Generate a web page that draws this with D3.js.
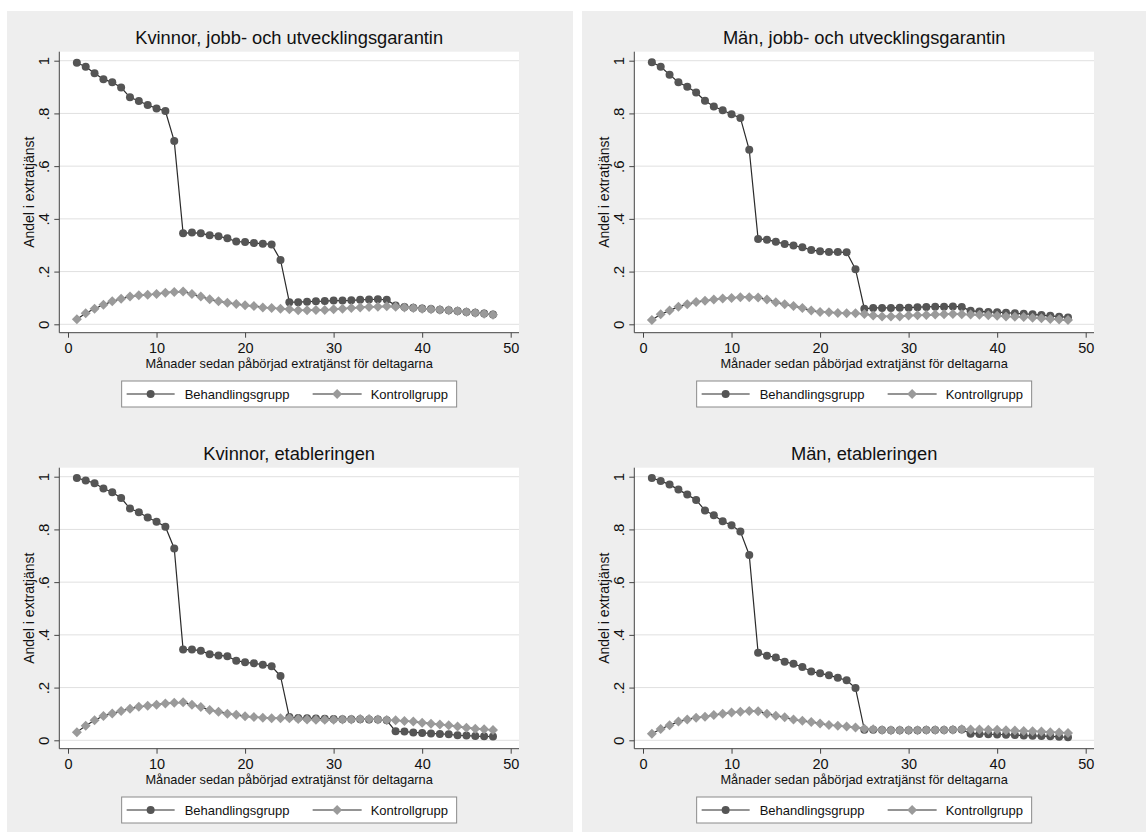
<!DOCTYPE html>
<html>
<head>
<meta charset="utf-8">
<script src="https://cdn.jsdelivr.net/npm/d3@7"></script>
<style>
  body { margin: 0; background: #fff; }
  svg { display: block; font-family: Arial, "Liberation Sans", sans-serif; }
</style>
</head>
<body>
<div id="chart"></div>
<script>
// månader 1..48
const months = [1,2,3,4,5,6,7,8,9,10,11,12,13,14,15,16,17,18,19,20,21,22,23,24,
  25,26,27,28,29,30,31,32,33,34,35,36,37,38,39,40,41,42,43,44,45,46,47,48];

const panelTitles = [
  'Kvinnor, jobb- och utvecklingsgarantin',
  'Män, jobb- och utvecklingsgarantin',
  'Kvinnor, etableringen',
  'Män, etableringen'
];

const seriesNames = ['Behandlingsgrupp', 'Kontrollgrupp'];
const xLabel = 'Månader sedan påbörjad extratjänst för deltagarna';
const yLabel = 'Andel i extratjänst';

const xTicks = [0, 10, 20, 30, 40, 50];
const yTicks = [0, 0.2, 0.4, 0.6, 0.8, 1];
const yTickLabels = ['0', '.2', '.4', '.6', '.8', '1'];

// Kvinnor, jobb- och utvecklingsgarantin
const kvJobbBeh = [0.992,0.977,0.952,0.930,0.918,0.898,0.861,0.847,0.832,0.819,0.809,0.695,
  0.345,0.348,0.345,0.338,0.334,0.326,0.314,0.312,0.308,0.306,0.303,0.244,
  0.084,0.084,0.086,0.087,0.088,0.090,0.090,0.091,0.093,0.094,0.095,0.093,
  0.071,0.066,0.063,0.060,0.058,0.055,0.053,0.050,0.047,0.044,0.041,0.037];
const kvJobbKon = [0.019,0.042,0.059,0.074,0.087,0.097,0.105,0.110,0.112,0.115,0.120,0.123,
  0.124,0.115,0.105,0.095,0.087,0.082,0.077,0.072,0.069,0.064,0.062,0.059,
  0.057,0.053,0.053,0.054,0.054,0.057,0.059,0.062,0.064,0.066,0.067,0.068,
  0.067,0.064,0.062,0.059,0.057,0.055,0.053,0.050,0.047,0.044,0.040,0.036];

// Män, jobb- och utvecklingsgarantin
const manJobbBeh = [0.994,0.977,0.947,0.918,0.901,0.879,0.848,0.826,0.812,0.797,0.783,0.662,
  0.324,0.321,0.313,0.305,0.299,0.292,0.282,0.277,0.274,0.274,0.273,0.209,
  0.059,0.062,0.062,0.062,0.063,0.063,0.065,0.066,0.067,0.067,0.068,0.066,
  0.051,0.049,0.047,0.046,0.044,0.042,0.040,0.038,0.035,0.032,0.029,0.026];
const manJobbKon = [0.016,0.038,0.052,0.067,0.076,0.085,0.089,0.094,0.098,0.100,0.103,0.103,
  0.102,0.094,0.084,0.076,0.069,0.062,0.052,0.047,0.046,0.043,0.042,0.042,
  0.039,0.033,0.030,0.030,0.030,0.033,0.034,0.035,0.037,0.038,0.039,0.038,
  0.037,0.036,0.034,0.032,0.030,0.029,0.028,0.025,0.023,0.020,0.018,0.016];

// Kvinnor, etableringen
const kvEtabBeh = [0.995,0.986,0.975,0.955,0.941,0.919,0.879,0.865,0.845,0.829,0.810,0.728,
  0.344,0.344,0.340,0.326,0.322,0.319,0.302,0.296,0.292,0.287,0.281,0.244,
  0.088,0.085,0.084,0.083,0.082,0.081,0.080,0.080,0.080,0.079,0.079,0.076,
  0.034,0.033,0.030,0.028,0.026,0.024,0.023,0.019,0.018,0.016,0.015,0.014];
const kvEtabKon = [0.031,0.055,0.076,0.092,0.102,0.111,0.120,0.127,0.131,0.135,0.140,0.142,
  0.144,0.135,0.126,0.115,0.108,0.101,0.097,0.091,0.088,0.086,0.084,0.084,
  0.084,0.081,0.079,0.078,0.078,0.078,0.079,0.079,0.081,0.081,0.079,0.077,
  0.076,0.073,0.071,0.067,0.063,0.060,0.057,0.052,0.048,0.044,0.042,0.039];

// Män, etableringen
const manEtabBeh = [0.995,0.984,0.970,0.951,0.932,0.912,0.872,0.854,0.831,0.816,0.792,0.703,
  0.332,0.321,0.314,0.298,0.290,0.278,0.261,0.254,0.247,0.237,0.228,0.198,
  0.040,0.040,0.039,0.038,0.038,0.038,0.038,0.039,0.039,0.039,0.040,0.041,
  0.025,0.024,0.023,0.022,0.021,0.020,0.018,0.017,0.016,0.015,0.013,0.012];
const manEtabKon = [0.025,0.043,0.057,0.071,0.079,0.086,0.089,0.096,0.101,0.105,0.108,0.111,
  0.110,0.101,0.093,0.087,0.079,0.074,0.069,0.064,0.058,0.055,0.052,0.049,
  0.044,0.042,0.039,0.038,0.038,0.038,0.038,0.039,0.039,0.039,0.040,0.042,
  0.041,0.041,0.040,0.040,0.038,0.037,0.035,0.034,0.033,0.031,0.030,0.028];

const behSeries = [kvJobbBeh, manJobbBeh, kvEtabBeh, manEtabBeh];
const konSeries = [kvJobbKon, manJobbKon, kvEtabKon, manEtabKon];

const W = 1146, H = 834;
const colX = [0, 575];
const rowY = [0, 416];
const bgTop = [11, 416], bgBottom = [416, 832];

const lineColor = '#2b2b2b';
const behColor = '#555555';
const konColor = '#9a9a9a';

const svg = d3.select('#chart').append('svg')
  .attr('width', W)
  .attr('height', H);

svg.append('rect').attr('width', W).attr('height', H).attr('fill', '#fff');

const diamond = d3.symbol().type(d3.symbolSquare).size(50);

panelTitles.forEach((title, i) => {
  const col = i % 2, row = Math.floor(i / 2);
  const ox = colX[col], oy = rowY[row];

  const x = d3.scaleLinear().domain([0, 50]).range([ox + 68, ox + 510.7]);
  const y = d3.scaleLinear().domain([0, 1]).range([oy + 324.3, oy + 60.7]);

  const left = x(0) - 8.7, right = x(50) + 8.3;
  const top = y(1) - 9, bottom = y(0) + 8.4;
  const cx = (left + right) / 2;

  const g = svg.append('g');

  // grafens bakgrund
  g.append('rect')
    .attr('x', ox + 7).attr('y', bgTop[row])
    .attr('width', 566).attr('height', bgBottom[row] - bgTop[row])
    .attr('fill', '#eeeeee');

  g.append('rect')
    .attr('x', left).attr('y', top)
    .attr('width', right - left).attr('height', bottom - top)
    .attr('fill', '#fff');

  // rutnät
  g.append('g').selectAll('line')
    .data(yTicks)
    .join('line')
    .attr('x1', left).attr('x2', right)
    .attr('y1', d => y(d)).attr('y2', d => y(d))
    .attr('stroke', '#e0e0e0').attr('stroke-width', 1);

  // y-axel
  const yAxis = g.append('g')
    .attr('transform', `translate(${left},0)`)
    .call(d3.axisLeft(y).tickValues(yTicks)
      .tickFormat((d, k) => yTickLabels[k]).tickSize(5));
  yAxis.select('.domain').remove();
  yAxis.selectAll('line').attr('stroke', '#444');
  yAxis.selectAll('text')
    .attr('x', null).attr('dy', null)
    .attr('transform', 'translate(-10,0) rotate(-90)')
    .attr('text-anchor', 'middle')
    .attr('fill', '#111')
    .style('font-size', '15px');

  // x-axel
  const xAxis = g.append('g')
    .attr('transform', `translate(0,${bottom})`)
    .call(d3.axisBottom(x).tickValues(xTicks).tickSize(5));
  xAxis.select('.domain').remove();
  xAxis.selectAll('line').attr('stroke', '#444');
  xAxis.selectAll('text')
    .attr('y', 20).attr('dy', null)
    .attr('fill', '#111')
    .style('font-size', '14.5px');

  g.append('line')
    .attr('x1', left).attr('x2', left).attr('y1', top).attr('y2', bottom)
    .attr('stroke', '#444');
  g.append('line')
    .attr('x1', left).attr('x2', right).attr('y1', bottom).attr('y2', bottom)
    .attr('stroke', '#444');

  // titlar
  g.append('text')
    .attr('x', cx).attr('y', y(1) - 16.5)
    .attr('text-anchor', 'middle')
    .style('font-size', '18.3px')
    .attr('fill', '#111')
    .text(title);

  g.append('text')
    .attr('x', cx).attr('y', y(0) + 43.5)
    .attr('text-anchor', 'middle')
    .style('font-size', '12.8px')
    .attr('fill', '#111')
    .text(xLabel);

  g.append('text')
    .attr('transform', `translate(${left - 25.5},${(top + bottom) / 2}) rotate(-90)`)
    .attr('text-anchor', 'middle')
    .style('font-size', '14px')
    .attr('fill', '#111')
    .text(yLabel);

  // serier
  const beh = months.map((m, k) => ({ m, v: behSeries[i][k] }));
  const kon = months.map((m, k) => ({ m, v: konSeries[i][k] }));
  const line = d3.line().x(d => x(d.m)).y(d => y(d.v));

  g.append('path').datum(beh)
    .attr('d', line).attr('fill', 'none')
    .attr('stroke', lineColor).attr('stroke-width', 1.2);
  g.append('g').selectAll('circle')
    .data(beh).join('circle')
    .attr('cx', d => x(d.m)).attr('cy', d => y(d.v))
    .attr('r', 4).attr('fill', behColor);

  g.append('path').datum(kon)
    .attr('d', line).attr('fill', 'none')
    .attr('stroke', lineColor).attr('stroke-width', 1.2);
  g.append('g').selectAll('path')
    .data(kon).join('path')
    .attr('d', diamond)
    .attr('transform', d => `translate(${x(d.m)},${y(d.v)}) rotate(45)`)
    .attr('fill', konColor);

  // förklaring
  const lx = cx - 167.5, ly = y(0) + 56.7;
  const leg = g.append('g').attr('transform', `translate(${lx},${ly})`);
  leg.append('rect')
    .attr('width', 335).attr('height', 26)
    .attr('fill', '#fff').attr('stroke', '#8a8a8a');

  const keys = [
    { x1: 5, x2: 53, text: 63, shape: 'circle' },
    { x1: 191, x2: 240, text: 249, shape: 'diamond' }
  ];
  keys.forEach((k, j) => {
    const mid = (k.x1 + k.x2) / 2;
    leg.append('line')
      .attr('x1', k.x1).attr('x2', k.x2).attr('y1', 13).attr('y2', 13)
      .attr('stroke', lineColor).attr('stroke-width', 1.2);
    if (k.shape === 'circle') {
      leg.append('circle').attr('cx', mid).attr('cy', 13).attr('r', 4).attr('fill', behColor);
    } else {
      leg.append('path').attr('d', diamond)
        .attr('transform', `translate(${mid},13) rotate(45)`)
        .attr('fill', konColor);
    }
    leg.append('text')
      .attr('x', k.text).attr('y', 18)
      .style('font-size', '13px')
      .attr('fill', '#111')
      .text(seriesNames[j]);
  });
});
</script>
</body>
</html>
